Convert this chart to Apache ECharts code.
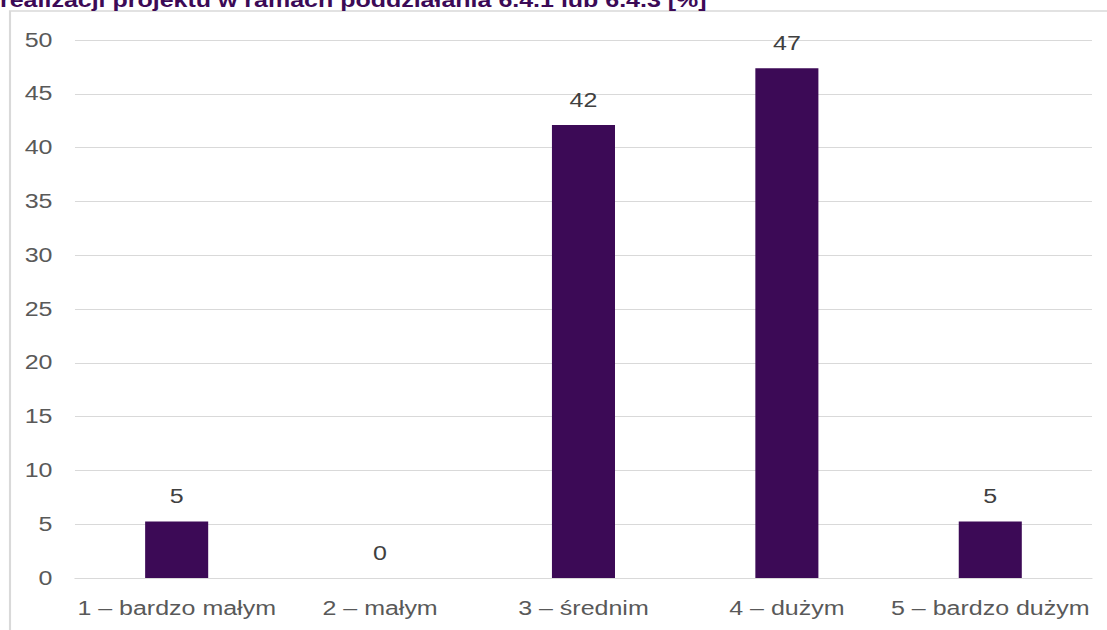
<!DOCTYPE html>
<html>
<head>
<meta charset="utf-8">
<script src="https://cdn.jsdelivr.net/npm/echarts@6/dist/echarts.min.js"></script>
<style>
  html, body { margin: 0; padding: 0; background: #ffffff; overflow: hidden; }
  /* the chart is laid out narrower and widened horizontally to fill the page */
  #chart { width: 886px; height: 630px; transform: scaleX(1.2494); transform-origin: 0 0; }
</style>
</head>
<body>
<div id="chart"></div>
<script>
// Answer categories (scale 1–5)
const categories = ['1 – bardzo małym', '2 – małym', '3 – średnim', '4 – dużym', '5 – bardzo dużym'];
// Share of answers [%]
const shares = [5.26, 0, 42.11, 47.37, 5.26];
// Y axis range
const yMin = 0;
const yMax = 50;
const yStep = 5;

const titleText = 'realizacji projektu w ramach poddziałania 6.4.1 lub 6.4.3 [%]';
const font = '"Liberation Sans", Arial, sans-serif';

const chart = echarts.init(document.getElementById('chart'), null, { renderer: 'svg' });

chart.setOption({
  animation: false,
  backgroundColor: '#ffffff',
  title: {
    text: titleText,
    left: 0,
    top: -10,
    padding: 0,
    textStyle: { color: '#3c0a56', fontSize: 20, fontWeight: 'bold', fontFamily: font }
  },
  graphic: [{
    type: 'rect',
    shape: { x: 8, y: 11, width: 1000, height: 700 },
    style: { fill: 'none', stroke: '#d9d9d9', lineWidth: 1.7 },
    silent: true,
    z: -1
  }],
  grid: { left: 60, right: 12, top: 40, bottom: 52, containLabel: false },
  xAxis: {
    type: 'category',
    data: categories,
    axisLine: { show: true, lineStyle: { color: '#d9d9d9', width: 1 } },
    axisTick: { show: false },
    axisLabel: { color: '#595959', fontSize: 20, fontFamily: font, margin: 20, interval: 0 }
  },
  yAxis: {
    type: 'value',
    min: yMin,
    max: yMax,
    interval: yStep,
    axisLine: { show: false },
    axisTick: { show: false },
    axisLabel: { color: '#595959', fontSize: 20, fontFamily: font, margin: 18 },
    splitLine: { lineStyle: { color: '#d9d9d9', width: 1 } }
  },
  series: [{
    type: 'bar',
    data: shares,
    barWidth: '31%',
    itemStyle: { color: '#3c0a56' },
    label: {
      show: true,
      position: 'top',
      distance: 15,
      color: '#404040',
      fontSize: 20,
      fontFamily: font,
      formatter: p => Math.round(p.value).toString()
    }
  }]
});
</script>
</body>
</html>
